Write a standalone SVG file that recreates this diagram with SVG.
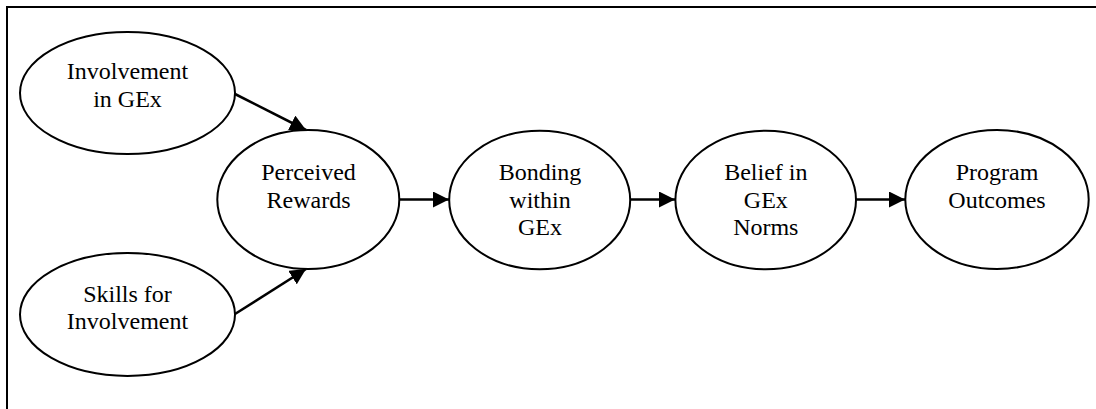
<svg xmlns="http://www.w3.org/2000/svg" width="1096" height="409" viewBox="0 0 1096 409">
  <style>
    .node ellipse { fill: #ffffff; stroke: #000000; stroke-width: 2; }
    .node text { font-family: "Liberation Serif", "Times New Roman", serif; font-size: 24px; fill: #000000; text-anchor: middle; }
    .edge { stroke: #000000; stroke-width: 2.6; fill: none; marker-end: url(#arrow); }
    .frame { stroke: #000000; stroke-width: 2; fill: none; }
  </style>
  <defs>
    <marker id="arrow" markerUnits="userSpaceOnUse" markerWidth="16" markerHeight="16" refX="16" refY="8" orient="auto">
      <path d="M0,0 L16,8 L0,16 Z" fill="#000000"/>
    </marker>
  </defs>

  <rect x="0" y="0" width="1096" height="409" fill="#ffffff"/>

  <!-- open frame: top and left edges -->
  <path class="frame" d="M7,409 L7,7 L1096,7"/>

  <g id="connectors">
    <line class="edge" x1="235" y1="94" x2="306" y2="130"/>
    <line class="edge" x1="235" y1="314" x2="306" y2="269"/>
    <line class="edge" x1="399" y1="199.5" x2="449" y2="199.5"/>
    <line class="edge" x1="630" y1="199.5" x2="675" y2="199.5"/>
    <line class="edge" x1="856" y1="199.5" x2="905" y2="199.5"/>
  </g>

  <g id="involvement" class="node">
    <ellipse cx="127.5" cy="93" rx="107.5" ry="61"/>
    <text x="127.5" y="79">Involvement</text>
    <text x="127.5" y="107">in GEx</text>
  </g>

  <g id="skills" class="node">
    <ellipse cx="127.5" cy="314.5" rx="107.5" ry="61.5"/>
    <text x="127.5" y="301.5">Skills for</text>
    <text x="127.5" y="328.5">Involvement</text>
  </g>

  <g id="perceived-rewards" class="node">
    <ellipse cx="308.3" cy="199.5" rx="91" ry="69.5"/>
    <text x="308.5" y="180">Perceived</text>
    <text x="308.5" y="207.5">Rewards</text>
  </g>

  <g id="bonding" class="node">
    <ellipse cx="539.7" cy="200" rx="90.5" ry="69.3"/>
    <text x="540" y="180">Bonding</text>
    <text x="540" y="207.5">within</text>
    <text x="540" y="235">GEx</text>
  </g>

  <g id="belief" class="node">
    <ellipse cx="765.7" cy="200" rx="90.3" ry="69.3"/>
    <text x="765.8" y="180">Belief in</text>
    <text x="765.8" y="207.5">GEx</text>
    <text x="765.8" y="235">Norms</text>
  </g>

  <g id="outcomes" class="node">
    <ellipse cx="997" cy="199.5" rx="91.7" ry="69.5"/>
    <text x="997" y="180">Program</text>
    <text x="997" y="207.7">Outcomes</text>
  </g>
</svg>
